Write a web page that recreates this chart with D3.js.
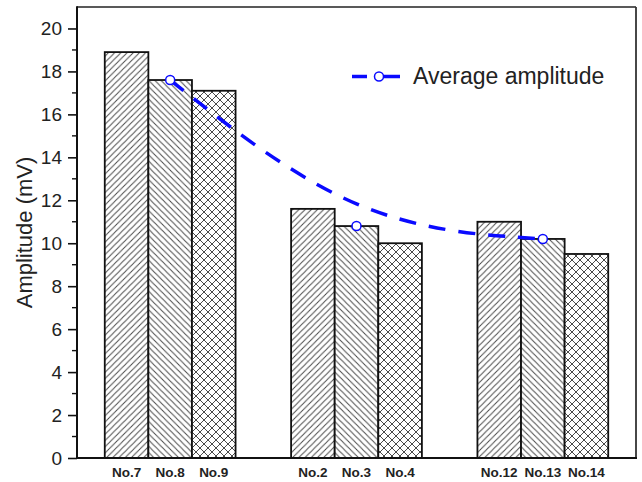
<!DOCTYPE html>
<html>
<head>
<meta charset="utf-8">
<script src="https://cdn.jsdelivr.net/npm/d3@7"></script>
<style>
  html, body { margin: 0; padding: 0; background: #fff; }
  svg { display: block; }
</style>
</head>
<body>
<svg id="chart" width="642" height="482"></svg>
<script>
// ---- data ----
const categories = ["No.7", "No.8", "No.9", "No.2", "No.3", "No.4", "No.12", "No.13", "No.14"];
const groupIndex = [1, 1, 1, 2, 2, 2, 3, 3, 3];
const slotIndex = [0, 1, 2, 0, 1, 2, 0, 1, 2];
const amplitudes = [18.9, 17.6, 17.1, 11.6, 10.8, 10.0, 11.0, 10.2, 9.5];
const averageGroups = [1, 2, 3];
const averageValues = [17.6, 10.8, 10.2];
const yTicks = [0, 2, 4, 6, 8, 10, 12, 14, 16, 18, 20];
const legendLabel = "Average amplitude";
const yTitle = "Amplitude (mV)";

// ---- layout ----
const svg = d3.select("#chart");
const L = 77, R = 636, T = 7, B = 458;
const font = "'Liberation Sans', Arial, sans-serif";

const x = d3.scaleLinear().domain([0.5, 3.5]).range([L, R]);
const inner = d3.scaleBand().domain([0, 1, 2]).range([-0.351, 0.351]).padding(0);
const y = d3.scaleLinear().domain([0, 21]).range([B, T]);

// ---- patterns ----
const defs = svg.append("defs");
const hatchColor = "#4a4a4a";
const s = 6.2;
const p1 = defs.append("pattern").attr("id", "fwd").attr("patternUnits", "userSpaceOnUse")
  .attr("width", s).attr("height", s);
p1.append("rect").attr("width", s).attr("height", s).attr("fill", "#fff");
p1.append("path").attr("d", `M0,${s} L${s},0 M${-s/2},${s/2} L${s/2},${-s/2} M${s/2},${s*1.5} L${s*1.5},${s/2}`)
  .attr("stroke", hatchColor).attr("stroke-width", 1);
const p2 = defs.append("pattern").attr("id", "bwd").attr("patternUnits", "userSpaceOnUse")
  .attr("width", s).attr("height", s);
p2.append("rect").attr("width", s).attr("height", s).attr("fill", "#fff");
p2.append("path").attr("d", `M0,0 L${s},${s} M${-s/2},${s/2} L${s/2},${s*1.5} M${s/2},${-s/2} L${s*1.5},${s/2}`)
  .attr("stroke", hatchColor).attr("stroke-width", 1);
const c = 8;
const p3 = defs.append("pattern").attr("id", "cross").attr("patternUnits", "userSpaceOnUse")
  .attr("width", c).attr("height", c);
p3.append("rect").attr("width", c).attr("height", c).attr("fill", "#fff");
p3.append("path").attr("d", `M0,0 L${c},${c} M0,${c} L${c},0`)
  .attr("stroke", hatchColor).attr("stroke-width", 1);
const patterns = ["url(#fwd)", "url(#bwd)", "url(#cross)"];

// ---- bars ----
const bars = categories.map((name, i) => ({ name, g: groupIndex[i], k: slotIndex[i], v: amplitudes[i] }));
svg.append("g").selectAll("rect").data(bars).join("rect")
  .attr("x", d => x(d.g + inner(d.k)))
  .attr("width", d => x(d.g + inner(d.k) + inner.bandwidth()) - x(d.g + inner(d.k)))
  .attr("y", d => y(d.v))
  .attr("height", d => y(0) - y(d.v))
  .attr("fill", d => patterns[d.k])
  .attr("stroke", "#111")
  .attr("stroke-width", 1.8);

// ---- x labels ----
svg.append("g").selectAll("text").data(bars).join("text")
  .attr("x", d => x(d.g + inner(d.k) + inner.bandwidth() / 2))
  .attr("y", 477)
  .attr("text-anchor", "middle")
  .attr("font-family", font)
  .attr("font-weight", "bold")
  .attr("font-size", 13.5)
  .attr("fill", "#222")
  .text(d => d.name);

// ---- frame ----
svg.append("line").attr("x1", L).attr("x2", R).attr("y1", T).attr("y2", T)
  .attr("stroke", "#222").attr("stroke-width", 1.5);
svg.append("line").attr("x1", R).attr("x2", R).attr("y1", T).attr("y2", B)
  .attr("stroke", "#333").attr("stroke-width", 1.8);
svg.append("line").attr("x1", L - 1).attr("x2", R + 1).attr("y1", B).attr("y2", B)
  .attr("stroke", "#111").attr("stroke-width", 2);

// ---- y axis ----
const yAxis = d3.axisLeft(y).tickValues(yTicks).tickSize(9).tickPadding(6).tickFormat(d3.format("d"));
const ya = svg.append("g").attr("transform", `translate(${L},0)`).call(yAxis);
ya.select(".domain").remove();
ya.selectAll(".tick line").attr("stroke", "#111").attr("stroke-width", 1.6);
ya.selectAll(".tick text").attr("font-family", font).attr("font-size", 19).attr("fill", "#222");
const minor = d3.range(1, 21, 2);
svg.append("g").selectAll("line").data(minor).join("line")
  .attr("x1", L - 5).attr("x2", L).attr("y1", d => y(d)).attr("y2", d => y(d))
  .attr("stroke", "#111").attr("stroke-width", 1.4);
svg.append("line").attr("x1", L).attr("x2", L).attr("y1", T - 0.75).attr("y2", B + 1)
  .attr("stroke", "#111").attr("stroke-width", 2);

svg.append("text")
  .attr("transform", `translate(32,${(T + B) / 2}) rotate(-90)`)
  .attr("text-anchor", "middle")
  .attr("font-family", font)
  .attr("font-size", 22)
  .attr("fill", "#222")
  .text(yTitle);

// ---- average line ----
const blue = "#0a0aff";
const avgPts = averageGroups.map((g, i) => [x(g), y(averageValues[i])]);
svg.append("path")
  .attr("d", d3.line().curve(d3.curveBasis)(avgPts))
  .attr("fill", "none")
  .attr("stroke", blue)
  .attr("stroke-width", 3.5)
  .attr("stroke-dasharray", "17,13");
svg.append("g").selectAll("circle").data(avgPts).join("circle")
  .attr("cx", d => d[0]).attr("cy", d => d[1]).attr("r", 4.5)
  .attr("fill", "#fff").attr("stroke", blue).attr("stroke-width", 1.5);

// ---- legend ----
const lg = svg.append("g");
lg.append("line").attr("x1", 352).attr("x2", 367).attr("y1", 76.5).attr("y2", 76.5)
  .attr("stroke", blue).attr("stroke-width", 3.5);
lg.append("line").attr("x1", 384).attr("x2", 400).attr("y1", 76.5).attr("y2", 76.5)
  .attr("stroke", blue).attr("stroke-width", 3.5);
lg.append("circle").attr("cx", 379).attr("cy", 76.5).attr("r", 4.5)
  .attr("fill", "#fff").attr("stroke", blue).attr("stroke-width", 1.5);
lg.append("text").attr("x", 413).attr("y", 84)
  .attr("font-family", font).attr("font-size", 23).attr("fill", "#222")
  .text(legendLabel);
</script>
</body>
</html>
